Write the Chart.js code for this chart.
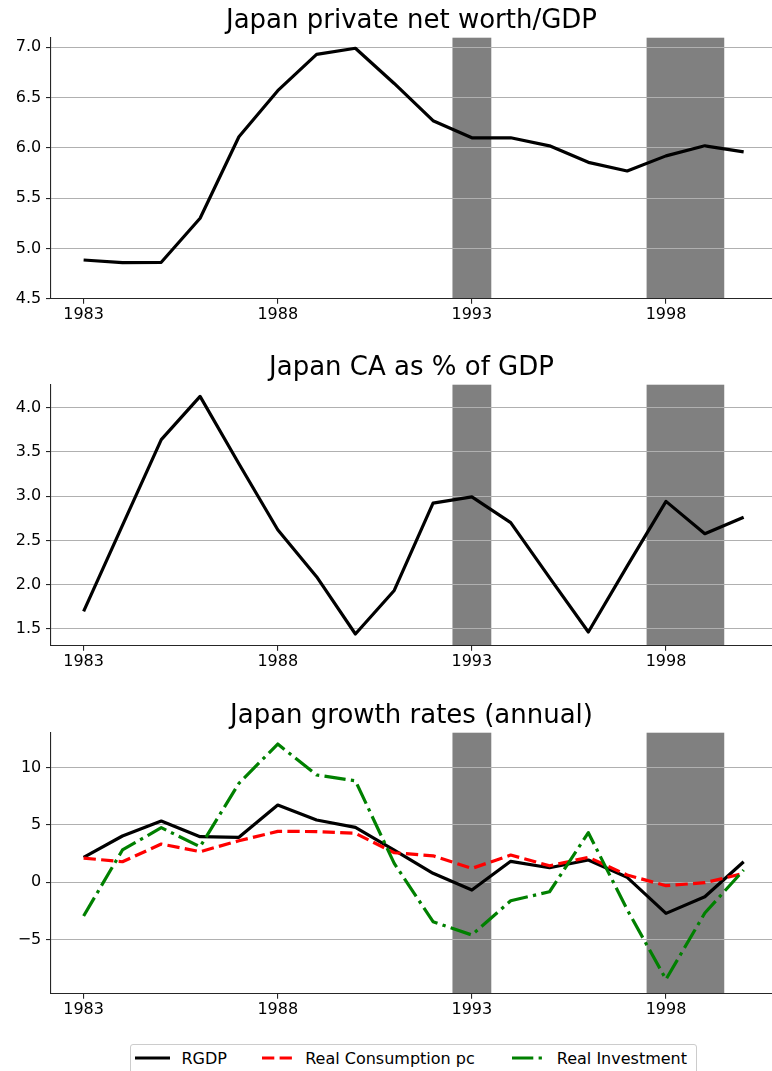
<!DOCTYPE html>
<html>
<head>
<meta charset="utf-8">
<script src="https://cdn.jsdelivr.net/npm/chart.js@4.4.1/dist/chart.umd.min.js"></script>
<style>
  html, body { margin: 0; padding: 0; background: #fff; }
  body { width: 772px; height: 1071px; overflow: hidden; position: relative; font-family: "DejaVu Sans", sans-serif; }
  .panel { position: absolute; left: 0; }
  #legend { position: absolute; left: 130px; top: 1044px; width: 567px; height: 40px; box-sizing: border-box;
            border: 1px solid #cccccc; border-radius: 3px; background: #fff; }
  .item svg { position: absolute; top: 8.3px; }
  .item span { position: absolute; top: 3.6px; font-size: 16px; line-height: 20px; white-space: nowrap; color: #000; }
</style>
</head>
<body>
<canvas id="worthChart" class="panel" width="772" height="330" style="top:0px"></canvas>
<canvas id="caChart" class="panel" width="772" height="330" style="top:347px"></canvas>
<canvas id="growthChart" class="panel" width="772" height="330" style="top:695px"></canvas>

<div id="legend">
  <div class="item">
    <svg width="35" height="10" style="left:4px"><line x1="0" y1="5" x2="35" y2="5" stroke="#000000" stroke-width="3.2"/></svg>
    <span style="left:50.5px">RGDP</span>
  </div>
  <div class="item">
    <svg width="35" height="10" style="left:131px"><line x1="0" y1="5" x2="35" y2="5" stroke="#ff0000" stroke-width="3.2" stroke-dasharray="12.3 5.3"/></svg>
    <span style="left:174.2px">Real Consumption pc</span>
  </div>
  <div class="item">
    <svg width="35" height="10" style="left:381px"><line x1="0" y1="5" x2="35" y2="5" stroke="#008000" stroke-width="3.2" stroke-dasharray="21.3 5.3 3.3 5.3"/></svg>
    <span style="left:425.8px">Real Investment</span>
  </div>
</div>

<script>
// annual data 1983-2000
const years = [1983, 1984, 1985, 1986, 1987, 1988, 1989, 1990, 1991, 1992, 1993, 1994, 1995, 1996, 1997, 1998, 1999, 2000];

const netWorth = [4.885, 4.858, 4.862, 5.30, 6.11, 6.568, 6.93, 6.99, 6.64, 6.27, 6.10, 6.10, 6.02, 5.856, 5.77, 5.92, 6.02, 5.96];
const currentAccount = [1.70, 2.67, 3.636, 4.124, 3.365, 2.62, 2.09, 1.444, 1.935, 2.92, 2.99, 2.70, 2.08, 1.466, 2.21, 2.94, 2.575, 2.76];

const rgdpGrowth = [2.17, 4.03, 5.34, 3.97, 3.92, 6.74, 5.43, 4.79, 2.79, 0.77, -0.69, 1.82, 1.26, 1.93, 0.42, -2.73, -1.28, 1.78];
const consumptionGrowth = [2.10, 1.78, 3.33, 2.66, 3.62, 4.44, 4.42, 4.27, 2.57, 2.30, 1.20, 2.37, 1.43, 2.17, 0.62, -0.31, -0.05, 0.77];
const investmentGrowth = [-2.96, 2.81, 4.76, 3.09, 8.64, 12.07, 9.36, 8.86, 1.64, -3.46, -4.62, -1.63, -0.84, 4.32, -2.40, -8.50, -2.70, 1.06];

// shaded recession spans
const recessionStart = [1992.5, 1997.5];
const recessionEnd = [1993.5, 1999.5];

// tick labels
const yearTicks = [1983, 1988, 1993, 1998];
const worthTicks = [4.5, 5.0, 5.5, 6.0, 6.5, 7.0];
const caTicks = [1.5, 2.0, 2.5, 3.0, 3.5, 4.0];
const growthTicks = [-5, 0, 5, 10];

const FONT = 'DejaVu Sans';
const AXIS = '#262626';

const recessionShading = {
    id: 'recessionShading',
    beforeDraw(chart) {
        const { ctx, chartArea, scales } = chart;
        const x = scales.x;
        ctx.save();
        ctx.fillStyle = '#808080';
        recessionStart.forEach((start, i) => {
            const x0 = x.getPixelForValue(start);
            const x1 = x.getPixelForValue(recessionEnd[i]);
            ctx.fillRect(x0, chartArea.top, x1 - x0, chartArea.bottom - chartArea.top);
        });
        ctx.restore();
    }
};

function series(values) {
    return years.map((yr, i) => ({ x: yr, y: values[i] }));
}

function lineSet(label, values, color, dash, order) {
    return {
        label: label,
        data: series(values),
        borderColor: color,
        backgroundColor: color,
        borderWidth: 3.2,
        borderDash: dash,
        borderJoinStyle: 'round',
        borderCapStyle: 'butt',
        pointRadius: 0,
        tension: 0,
        fill: false,
        order: order
    };
}

function makePanel(id, title, yMin, yMax, yTicks, fmt, datasets) {
    return new Chart(document.getElementById(id), {
        type: 'line',
        data: { datasets: datasets },
        options: {
            responsive: false,
            animation: false,
            devicePixelRatio: 1,
            layout: { padding: 0 },
            plugins: {
                legend: { display: false },
                tooltip: { enabled: false },
                title: {
                    display: true,
                    text: title,
                    fullSize: false,
                    color: '#000',
                    font: { family: FONT, size: 26, weight: 'normal' },
                    padding: { top: 5.4, bottom: 1.1 }
                }
            },
            scales: {
                x: {
                    type: 'linear',
                    min: 1982.16,
                    max: 2000.73,
                    afterFit: s => { s.height = 31.3; },
                    afterBuildTicks: s => { s.ticks = yearTicks.map(v => ({ value: v })); },
                    grid: { drawOnChartArea: false, drawTicks: true, tickLength: 5, color: AXIS, lineWidth: 1.1 },
                    border: { display: true, color: AXIS, width: 1.1 },
                    ticks: {
                        color: '#000', padding: 2, maxRotation: 0, autoSkip: false,
                        font: { family: FONT, size: 16 },
                        callback: v => String(v)
                    }
                },
                y: {
                    min: yMin,
                    max: yMax,
                    afterFit: s => { s.width = 51; },
                    afterBuildTicks: s => { s.ticks = yTicks.map(v => ({ value: v })); },
                    grid: { color: '#b0b0b0', lineWidth: 1.1, drawTicks: true, tickLength: 5, tickColor: AXIS, tickWidth: 1.1 },
                    border: { display: true, color: AXIS, width: 1.1 },
                    ticks: {
                        color: '#000', padding: 4.7,
                        font: { family: FONT, size: 16 },
                        callback: fmt
                    }
                }
            }
        },
        plugins: [recessionShading]
    });
}

const oneDecimal = v => v.toFixed(1);
const integer = v => String(v).replace('-', '\u2212');

makePanel('worthChart', 'Japan private net worth/GDP', 4.5, 7.095, worthTicks, oneDecimal, [
    lineSet('Net worth/GDP', netWorth, '#000000', [], 0)
]);

makePanel('caChart', 'Japan CA as % of GDP', 1.312, 4.256, caTicks, oneDecimal, [
    lineSet('CA % GDP', currentAccount, '#000000', [], 0)
]);

makePanel('growthChart', 'Japan growth rates (annual)', -9.75, 13.06, growthTicks, integer, [
    lineSet('RGDP', rgdpGrowth, '#000000', [], 3),
    lineSet('Real Consumption pc', consumptionGrowth, '#ff0000', [12.3, 5.3], 2),
    lineSet('Real Investment', investmentGrowth, '#008000', [21.3, 5.3, 3.3, 5.3], 1)
]);
</script>
</body>
</html>
